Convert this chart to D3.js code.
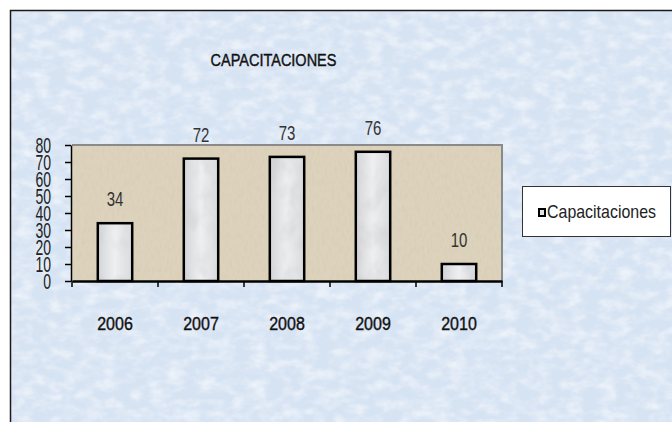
<!DOCTYPE html>
<html>
<head>
<meta charset="utf-8">
<script src="https://cdn.jsdelivr.net/npm/d3@7"></script>
<style>
  html, body { margin: 0; padding: 0; background: #ffffff; }
  svg { display: block; }
  text { font-family: "Liberation Sans", Arial, sans-serif; }
</style>
</head>
<body>
<svg id="chart" width="672" height="422"></svg>
<script>
// ---- data ----
const categories = ["2006", "2007", "2008", "2009", "2010"];
const values = [34, 72, 73, 76, 10];
const seriesName = "Capacitaciones";
const yTicks = [0, 10, 20, 30, 40, 50, 60, 70, 80];
const title = "CAPACITACIONES";

const svg = d3.select("#chart");
const defs = svg.append("defs");

// background texture
const fBg = defs.append("filter").attr("id", "bgTex").attr("x", 0).attr("y", 0).attr("width", 1).attr("height", 1);
fBg.append("feTurbulence").attr("type", "fractalNoise").attr("baseFrequency", "0.06 0.1").attr("numOctaves", 3).attr("seed", 4).attr("result", "n");
fBg.append("feColorMatrix").attr("in", "n").attr("type", "matrix")
  .attr("values", "0 0 0 0 1  0 0 0 0 1  0 0 0 0 1  1.6 0 0 0 -0.6");

const fTan = defs.append("filter").attr("id", "tanTex").attr("x", 0).attr("y", 0).attr("width", 1).attr("height", 1);
fTan.append("feTurbulence").attr("type", "fractalNoise").attr("baseFrequency", "0.4 0.15").attr("numOctaves", 2).attr("seed", 7).attr("result", "n");
fTan.append("feColorMatrix").attr("in", "n").attr("type", "matrix")
  .attr("values", "0 0 0 0 0.6  0 0 0 0 0.53  0 0 0 0 0.42  1.4 0 0 0 -0.6");

const fBar = defs.append("filter").attr("id", "barTex").attr("x", 0).attr("y", 0).attr("width", 1).attr("height", 1);
fBar.append("feTurbulence").attr("type", "fractalNoise").attr("baseFrequency", "0.06 0.04").attr("numOctaves", 3).attr("seed", 2).attr("result", "n");
fBar.append("feColorMatrix").attr("in", "n").attr("type", "matrix")
  .attr("values", "0 0 0 0 0.55  0 0 0 0 0.55  0 0 0 0 0.57  1.8 0 0 0 -0.8");

const grad = defs.append("linearGradient").attr("id", "barGrad").attr("x1", 0).attr("x2", 1).attr("y1", 0).attr("y2", 0);
grad.append("stop").attr("offset", "0%").attr("stop-color", "#d4d5d8");
grad.append("stop").attr("offset", "50%").attr("stop-color", "#eeeff1");
grad.append("stop").attr("offset", "100%").attr("stop-color", "#d9dadd");

// frame / background
svg.append("rect").attr("x", 10).attr("y", 10).attr("width", 672).attr("height", 422).attr("fill", "#d6e3f3");
svg.append("rect").attr("x", 10).attr("y", 10).attr("width", 672).attr("height", 422).attr("fill", "#ffffff").attr("filter", "url(#bgTex)").attr("opacity", 0.7);
svg.append("path").attr("d", "M10.5,422 V10.5 H672").attr("fill", "none").attr("stroke", "#1a1a1a").attr("stroke-width", 1.5);

// layout
const plot = { left: 72, right: 502, top: 145, bottom: 281 };

const x = d3.scaleBand().domain(categories).range([plot.left, plot.right]).paddingInner(0.6).paddingOuter(0.3);
const y = d3.scaleLinear().domain([0, 80]).range([plot.bottom, plot.top]);

// plot area
svg.append("rect").attr("x", plot.left).attr("y", plot.top).attr("width", plot.right - plot.left).attr("height", plot.bottom - plot.top).attr("fill", "#ddd2bb");
svg.append("rect").attr("x", plot.left).attr("y", plot.top).attr("width", plot.right - plot.left).attr("height", plot.bottom - plot.top).attr("fill", "#000").attr("filter", "url(#tanTex)").attr("opacity", 0.45);
svg.append("path").attr("d", `M${plot.left},${plot.top} H${plot.right} V${plot.bottom}`).attr("fill", "none").attr("stroke", "#8a8a8a").attr("stroke-width", 2);

// bars
const bars = svg.append("g");
bars.selectAll("rect.bar").data(values).join("rect").attr("class", "bar")
  .attr("x", (d, i) => x(categories[i]))
  .attr("y", d => y(d))
  .attr("width", x.bandwidth())
  .attr("height", d => y(0) - y(d))
  .attr("fill", "url(#barGrad)");
bars.selectAll("rect.tex").data(values).join("rect").attr("class", "tex")
  .attr("x", (d, i) => x(categories[i]))
  .attr("y", d => y(d))
  .attr("width", x.bandwidth())
  .attr("height", d => y(0) - y(d))
  .attr("fill", "#000").attr("filter", "url(#barTex)").attr("opacity", 0.5);
bars.selectAll("rect.out").data(values).join("rect").attr("class", "out")
  .attr("x", (d, i) => x(categories[i]))
  .attr("y", d => y(d))
  .attr("width", x.bandwidth())
  .attr("height", d => y(0) - y(d))
  .attr("fill", "none").attr("stroke", "#000").attr("stroke-width", 2.5);

// data labels
svg.append("g").selectAll("text").data(values).join("text")
  .attr("transform", (d, i) => `translate(${x(categories[i]) + x.bandwidth() / 2},${y(d) - 17}) scale(1,1.3)`)
  .attr("text-anchor", "middle")
  .attr("font-size", 15)
  .attr("fill", "#333")
  .text(d => d);

// y axis
const yAxis = svg.append("g").attr("transform", `translate(${plot.left - 1},0)`)
  .call(d3.axisLeft(y).tickValues(yTicks).tickSize(6).tickPadding(14).tickSizeOuter(0));
yAxis.select(".domain").attr("stroke", "#000").attr("stroke-width", 1.5);
yAxis.selectAll(".tick line").attr("stroke", "#000").attr("stroke-width", 1.5);
yAxis.selectAll(".tick text")
  .attr("font-size", 14).attr("fill", "#222")
  .attr("font-family", "Liberation Sans, Arial, sans-serif")
  .attr("transform", "scale(1,1.6)");

// x axis
const xAxis = svg.append("g").attr("transform", `translate(0,${plot.bottom})`)
  .call(d3.axisBottom(x).tickSize(0).tickPadding(0).tickSizeOuter(0));
xAxis.select(".domain").attr("stroke", "#000").attr("stroke-width", 2.5);
xAxis.selectAll(".tick text")
  .attr("font-size", 16).attr("fill", "#111")
  .attr("stroke", "#111").attr("stroke-width", 0.35)
  .attr("font-family", "Liberation Sans, Arial, sans-serif")
  .attr("dy", 0)
  .attr("y", 0)
  .attr("transform", "translate(0,49) scale(1,1.2)");
// category boundary ticks
const bounds = categories.map(c => x(c) - x.step() * x.paddingInner() / 2).concat([plot.right]);
svg.append("g").selectAll("line").data(bounds).join("line")
  .attr("x1", d => d).attr("x2", d => d)
  .attr("y1", plot.bottom).attr("y2", plot.bottom + 6)
  .attr("stroke", "#000").attr("stroke-width", 1.5);

// title
svg.append("text")
  .attr("transform", "translate(273.5,66) scale(1,1.2)")
  .attr("text-anchor", "middle")
  .attr("font-size", 14.5)
  .attr("fill", "#111")
  .attr("stroke", "#111").attr("stroke-width", 0.35)
  .text(title);

// legend
const lg = svg.append("g");
lg.append("rect").attr("x", 522.5).attr("y", 186.5).attr("width", 148).attr("height", 50)
  .attr("fill", "#ffffff").attr("stroke", "#333").attr("stroke-width", 1);
lg.append("rect").attr("x", 539).attr("y", 209).attr("width", 6).attr("height", 7)
  .attr("fill", "#e4e4e6").attr("stroke", "#000").attr("stroke-width", 2);
lg.append("text")
  .attr("transform", "translate(547,218) scale(1,1.3)")
  .attr("font-size", 14)
  .attr("fill", "#222")
  .attr("textLength", 109)
  .attr("lengthAdjust", "spacingAndGlyphs")
  .text(seriesName);
</script>
</body>
</html>
